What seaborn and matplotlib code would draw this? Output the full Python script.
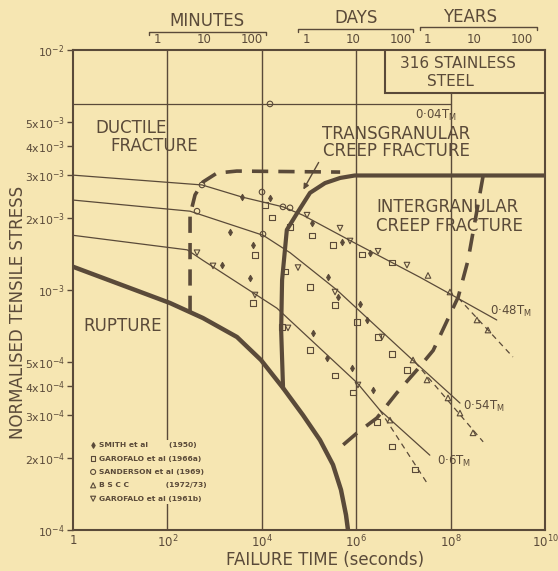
import matplotlib
matplotlib.use("Agg")
import matplotlib.pyplot as plt
import seaborn as sns
from matplotlib.patches import Rectangle

PAPER = "#F6E6B2"
INK = "#5A4A39"

# ---------------- data: failure time (s) vs normalised tensile stress ----------------
# 0.04 Tm isotherm
iso004_time = [1.0, 1.0e8]
iso004_stress = [5.96e-3, 5.96e-3]

# 0.48 Tm isotherm
iso048_time = [1.0, 541, 3.80e3, 2.82e4, 7.41e4, 8.5e5, 2.24e7, 8.3e7, 9.5e8]
iso048_stress = [3.01e-3, 2.74e-3, 2.44e-3, 2.22e-3, 2.05e-3, 1.585e-3, 1.13e-3, 9.8e-4, 7.5e-4]
iso048_ext_time = [1.45e8, 2.09e9]
iso048_ext_stress = [9.27e-4, 5.26e-4]

# 0.54 Tm isotherm
iso054_time = [1.0, 302, 1.07e4, 3.98e4, 3.9e5, 1.58e7, 1.58e8]
iso054_stress = [2.37e-3, 2.13e-3, 1.69e-3, 1.43e-3, 1.0e-3, 5.1e-4, 3.38e-4]
iso054_ext_time = [1.78e7, 4.9e8]
iso054_ext_stress = [5.0e-4, 2.33e-4]

# 0.6 Tm isotherm
iso060_time = [1.0, 263, 562, 2.09e4, 1.05e6, 3.16e6, 3.63e7]
iso060_stress = [1.69e-3, 1.47e-3, 1.33e-3, 8.4e-4, 4.1e-4, 3.16e-4, 2.05e-4]
iso060_ext_time = [3.16e6, 3.16e7]
iso060_ext_stress = [3.16e-4, 1.57e-4]

# field boundaries
rupture_time = [1.0, 113, 568, 2.98e3, 9.6e3, 2.81e4, 7.46e4, 1.71e5, 3.22e5, 4.76e5, 6.08e5, 6.7e5]
rupture_stress = [1.25e-3, 8.83e-4, 7.64e-4, 6.37e-4, 5.11e-4, 3.91e-4, 3.01e-4, 2.37e-4,
                  1.87e-4, 1.47e-4, 1.155e-4, 1.0e-4]

trans_inter_time = [2.82e4, 2.57e4, 2.69e4, 3.39e4, 5.6e4, 1.05e5, 2.19e5, 4.57e5, 9.3e5, 1.0e10]
trans_inter_stress = [3.91e-4, 6.8e-4, 1.10e-3, 1.78e-3, 2.09e-3, 2.54e-3, 2.79e-3, 2.93e-3, 3.0e-3, 3.0e-3]

ductile_trans_time = [302, 302, 302, 385, 568, 1.12e3, 2.95e3, 4.57e5]
ductile_trans_stress = [8.1e-4, 1.27e-3, 2.05e-3, 2.49e-3, 2.82e-3, 3.07e-3, 3.13e-3, 3.10e-3]

inter_dashed_time = [4.9e8, 2.34e8, 1.45e8, 4.27e7, 1.95e7, 7.2e6, 2.75e6, 1.05e6, 3.9e5]
inter_dashed_stress = [3.0e-3, 1.33e-3, 9.35e-4, 5.6e-4, 4.65e-4, 3.72e-4, 2.93e-4, 2.54e-4, 2.15e-4]

# experimental points
smith_time = [3.80e3, 1.49e4, 2.12e3, 6.51e3, 1.44e3, 5.62e3, 1.16e5, 5.0e5, 1.96e6,
              2.53e5, 4.11e5, 1.20e6, 1.69e6, 1.22e5, 2.40e5, 8.15e5, 2.27e6]
smith_stress = [2.44e-3, 2.42e-3, 1.74e-3, 1.54e-3, 1.27e-3, 1.12e-3, 1.90e-3, 1.58e-3, 1.43e-3,
                1.13e-3, 9.35e-4, 8.74e-4, 7.50e-4, 6.62e-4, 5.21e-4, 4.73e-4, 3.83e-4]

garofalo66_time = [1.17e4, 1.64e4, 3.96e4, 7.18e3, 6.51e3, 3.10e4, 2.68e4, 1.16e5, 3.22e5,
                   1.33e6, 5.73e6, 1.05e5, 3.56e5, 1.04e6, 2.90e6, 5.73e6, 1.19e7, 1.05e5,
                   3.56e5, 8.55e5, 2.76e6, 5.73e6, 1.76e7]
garofalo66_stress = [2.26e-3, 2.01e-3, 1.83e-3, 1.40e-3, 8.83e-4, 1.19e-3, 7.01e-4, 1.69e-3, 1.54e-3,
                     1.41e-3, 1.30e-3, 1.03e-3, 8.66e-4, 7.36e-4, 6.37e-4, 5.41e-4, 4.64e-4, 5.62e-4,
                     4.42e-4, 3.73e-4, 2.82e-4, 2.22e-4, 1.78e-4]

sanderson_time = [1.49e4, 541, 1.01e4, 2.81e4, 424, 1.06e4, 3.96e4]
sanderson_stress = [5.96e-3, 2.74e-3, 2.56e-3, 2.22e-3, 2.13e-3, 1.71e-3, 2.20e-3]

bscc_time = [3.32e7, 9.7e7, 3.62e8, 6.2e8, 1.60e7, 3.16e7, 8.81e7, 1.58e8, 2.98e8, 5.2e6]
bscc_stress = [1.15e-3, 9.81e-4, 7.50e-4, 6.81e-4, 5.11e-4, 4.22e-4, 3.55e-4, 3.07e-4, 2.54e-4, 2.87e-4]

garofalo61_time = [9.08e4, 4.54e5, 7.39e5, 2.90e6, 1.19e7, 5.85e4, 424, 925, 7.18e3,
                   3.59e4, 3.56e5, 1.09e6, 3.52e6]
garofalo61_stress = [2.05e-3, 1.81e-3, 1.60e-3, 1.45e-3, 1.27e-3, 1.24e-3, 1.43e-3, 1.26e-3, 9.53e-4,
                     6.95e-4, 9.81e-4, 4.02e-4, 6.37e-4]

y_ticks = [1e-4, 2e-4, 3e-4, 4e-4, 5e-4, 1e-3, 2e-3, 3e-3, 4e-3, 5e-3, 1e-2]
y_ticklabels = ["10$^{-4}$", "2x10$^{-4}$", "3x10$^{-4}$", "4x10$^{-4}$", "5x10$^{-4}$",
                "10$^{-3}$", "2x10$^{-3}$", "3x10$^{-3}$", "4x10$^{-3}$", "5x10$^{-3}$", "10$^{-2}$"]
x_ticks = [1, 1e2, 1e4, 1e6, 1e8, 1e10]
x_ticklabels = ["1", "10$^{2}$", "10$^{4}$", "10$^{6}$", "10$^{8}$", "10$^{10}$"]

# secondary time scales (seconds) shown above the frame
minute_marks = [60, 600, 6000]
day_marks = [8.64e4, 8.64e5, 8.64e6]
year_marks = [3.156e7, 3.156e8, 3.156e9]
scale_labels = ["1", "10", "100"]

# ---------------- figure ----------------
sns.set_style("ticks")
plt.rcParams["font.family"] = ["DejaVu Sans"]
plt.rcParams["mathtext.default"] = "regular"
plt.rcParams["text.color"] = INK
plt.rcParams["axes.edgecolor"] = INK

fig = plt.figure(figsize=(5.58, 5.71), dpi=100, facecolor=PAPER)
ax = fig.add_axes([73 / 558, 41 / 571, 472 / 558, 480 / 571])
ax.set_facecolor(PAPER)
ax.set_xscale("log")
ax.set_yscale("log")
ax.set_xlim(1, 1e10)
ax.set_ylim(1e-4, 1e-2)

# decade guide lines
for xv in [1e2, 1e4, 1e6, 1e8]:
    ax.axvline(xv, color=INK, lw=1.0, zorder=1)


def line(t, s, lw, ls="-", z=2):
    sns.lineplot(x=t, y=s, ax=ax, sort=False, estimator=None, color=INK,
                 lw=lw, linestyle=ls, zorder=z)


# isotherms
line(iso004_time, iso004_stress, 0.9)
line(iso048_time, iso048_stress, 0.9)
line(iso054_time, iso054_stress, 0.9)
line(iso060_time, iso060_stress, 0.9)
line(iso048_ext_time, iso048_ext_stress, 0.9, (0, (4.5, 3.5)))
line(iso054_ext_time, iso054_ext_stress, 0.9, (0, (4.5, 3.5)))
line(iso060_ext_time, iso060_ext_stress, 0.9, (0, (4.5, 3.5)))

# mechanism boundaries
line(rupture_time, rupture_stress, 3.2, z=3)
line(trans_inter_time, trans_inter_stress, 3.0, z=3)
line(ductile_trans_time, ductile_trans_stress, 2.6, (0, (4.5, 2.8)), z=3)
line(inter_dashed_time, inter_dashed_stress, 2.6, (0, (5, 3.2)), z=3)

# experimental data
pt_kw = dict(ax=ax, zorder=4, linewidth=0.8)
sns.scatterplot(x=smith_time, y=smith_stress, marker="d", s=10, color=INK,
                edgecolor=INK, label="SMITH et al        (1950)", **pt_kw)
sns.scatterplot(x=garofalo66_time, y=garofalo66_stress, marker="s", s=14, facecolors="none",
                edgecolor=INK, label="GAROFALO et al (1966a)", **pt_kw)
sns.scatterplot(x=sanderson_time, y=sanderson_stress, marker="o", s=16, facecolors="none",
                edgecolor=INK, label="SANDERSON et al (1969)", **pt_kw)
sns.scatterplot(x=bscc_time, y=bscc_stress, marker="^", s=16, facecolors="none",
                edgecolor=INK, label="B S C C              (1972/73)", **pt_kw)
sns.scatterplot(x=garofalo61_time, y=garofalo61_stress, marker="v", s=16, facecolors="none",
                edgecolor=INK, label="GAROFALO et al (1961b)", **pt_kw)

leg = ax.legend(loc="upper left", bbox_to_anchor=(0.022, 0.196), frameon=True,
                facecolor=PAPER, edgecolor="none", framealpha=1, fancybox=False,
                prop={"size": 5.4, "weight": "bold"}, labelspacing=0.95,
                handletextpad=0.3, handlelength=1.0, borderpad=0.3, markerscale=0.9)
for t in leg.get_texts():
    t.set_color(INK)
leg.set_zorder(6)

# axes styling
for sp in ax.spines.values():
    sp.set_linewidth(1.5)
    sp.set_color(INK)
    sp.set_visible(True)
ax.set_yticks(y_ticks)
ax.set_yticklabels(y_ticklabels, fontsize=7.8, color=INK)
ax.set_xticks(x_ticks)
ax.set_xticklabels(x_ticklabels, fontsize=8.5, color=INK)
ax.minorticks_off()
ax.tick_params(axis="y", direction="out", length=4, width=1, color=INK, pad=2)
ax.tick_params(axis="x", direction="out", length=0, pad=3)
ax.set_xlabel("")
ax.set_ylabel("")

# secondary time scales above the frame
xtr = ax.get_xaxis_transform()
for marks in (minute_marks, day_marks, year_marks):
    for m, lab in zip(marks, scale_labels):
        ax.text(m, 1.021, lab, transform=xtr, ha="center", va="center",
                fontsize=8.5, clip_on=False)
for x0, x1, yb, name, xc, yc in [(0.161, 0.409, 1.0375, "MINUTES", 0.284, 1.0604),
                                 (0.477, 0.720, 1.044, "DAYS", 0.5996, 1.0667),
                                 (0.735, 0.983, 1.048, "YEARS", 0.841, 1.0688)]:
    ax.plot([x0, x0, x1, x1], [yb - 0.006, yb, yb, yb - 0.006], transform=ax.transAxes,
            color=INK, lw=1.0, clip_on=False)
    ax.text(xc, yc, name, transform=ax.transAxes, ha="center", va="center",
            fontsize=12, clip_on=False)

# material box
ax.add_patch(Rectangle((0.661, 0.910), 0.339, 0.09, transform=ax.transAxes,
                       facecolor=PAPER, edgecolor=INK, lw=1.5, zorder=5))
ax.text(0.816, 0.971, "316 STAINLESS", transform=ax.transAxes, ha="center", va="center",
        fontsize=11, zorder=6)
ax.text(0.799, 0.935, "STEEL", transform=ax.transAxes, ha="center", va="center",
        fontsize=11, zorder=6)

# field names
fields = [(0.0466, 0.8385, "DUCTILE"), (0.0784, 0.800, "FRACTURE"),
          (0.5275, 0.826, "TRANSGRANULAR"), (0.5297, 0.7896, "CREEP FRACTURE"),
          (0.642, 0.672, "INTERGRANULAR"), (0.642, 0.633, "CREEP FRACTURE"),
          (0.0212, 0.425, "RUPTURE")]
for fx, fy, txt in fields:
    ax.text(fx, fy, txt, transform=ax.transAxes, ha="left", va="center", fontsize=12, zorder=6)
ax.annotate("", xy=(0.4852, 0.7042), xytext=(0.5233, 0.7708), xycoords="axes fraction",
            arrowprops=dict(arrowstyle="-|>", color=INK, lw=1.0, mutation_scale=8))

# isotherm labels
for fx, fy, txt in [(0.7246, 0.8646, "0·04T$_{M}$"), (0.8835, 0.456, "0·48T$_{M}$"),
                    (0.8263, 0.2583, "0·54T$_{M}$"), (0.7712, 0.1438, "0·6T$_{M}$")]:
    ax.text(fx, fy, txt, transform=ax.transAxes, ha="left", va="center", fontsize=8.5, zorder=6)

fig.text(325 / 558, 1 - 560 / 571, "FAILURE TIME (seconds)", ha="center", va="center",
         fontsize=12, color=INK)
fig.text(18 / 558, 1 - 312 / 571, "NORMALISED TENSILE STRESS", ha="center", va="center",
         rotation=90, fontsize=12, color=INK)

fig.savefig("out.png", dpi=100, facecolor=PAPER)
